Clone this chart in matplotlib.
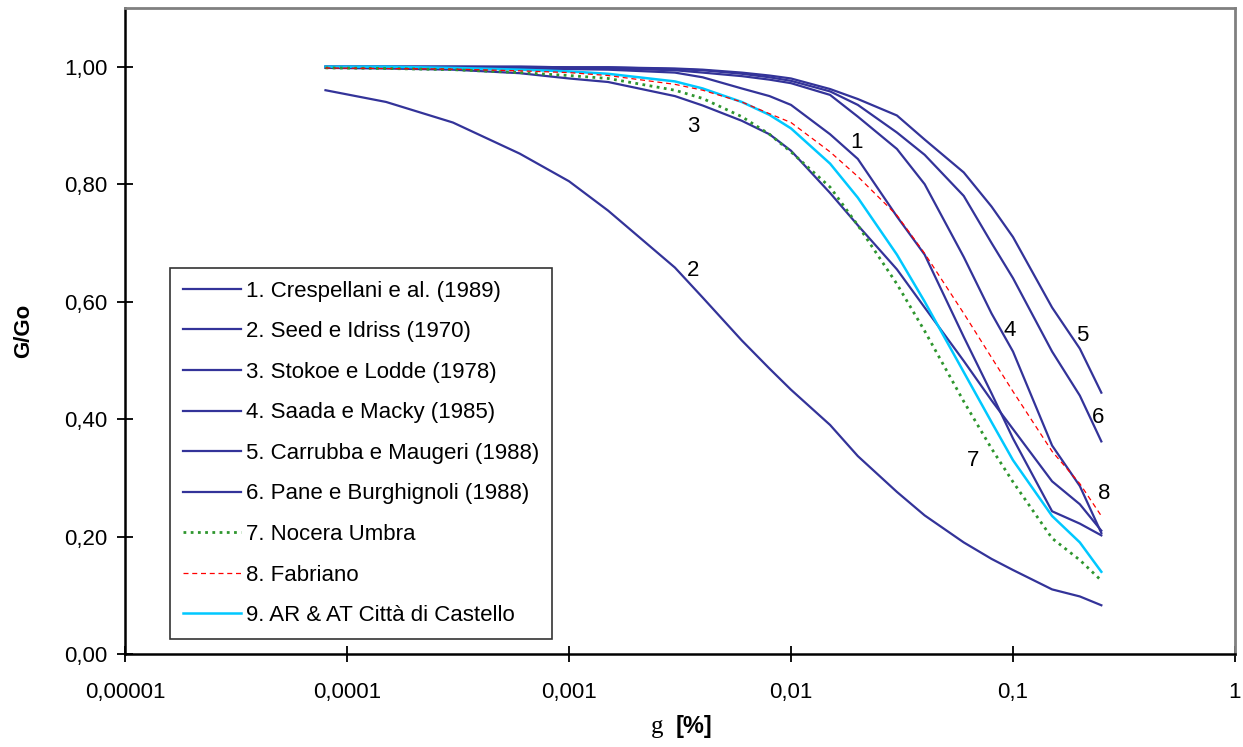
import matplotlib
matplotlib.use('Agg')
import matplotlib.pyplot as plt
from matplotlib.ticker import FixedLocator, FixedFormatter, NullLocator

plt.rcParams['font.family'] = ['Liberation Sans', 'DejaVu Sans']

# shear strain [%] at which every curve is tabulated
strain = [8e-5, 1.5e-4, 3e-4, 6e-4, 1e-3, 1.5e-3, 3e-3, 4e-3, 6e-3, 8e-3, 1e-2,
          1.5e-2, 2e-2, 3e-2, 4e-2, 6e-2, 8e-2, 0.1, 0.15, 0.2, 0.25]

# G/Go decay curves
crespellani = [0.999, 0.999, 0.998, 0.997, 0.996, 0.995, 0.99, 0.982, 0.963, 0.95, 0.935,
               0.885, 0.843, 0.745, 0.68, 0.54, 0.444, 0.367, 0.243, 0.222, 0.202]
seed_idriss = [0.96, 0.94, 0.905, 0.852, 0.805, 0.755, 0.658, 0.607, 0.534, 0.486, 0.45,
               0.39, 0.337, 0.276, 0.236, 0.19, 0.162, 0.143, 0.11, 0.098, 0.083]
stokoe_lodde = [0.998, 0.997, 0.995, 0.989, 0.98, 0.974, 0.95, 0.934, 0.908, 0.885, 0.857,
                0.785, 0.73, 0.655, 0.59, 0.499, 0.432, 0.383, 0.294, 0.255, 0.21]
saada_macky = [1.0, 1.0, 1.0, 0.999, 0.998, 0.997, 0.994, 0.99, 0.984, 0.978, 0.972,
               0.952, 0.915, 0.86, 0.80, 0.676, 0.58, 0.515, 0.355, 0.286, 0.206]
carrubba_maugeri = [1.0, 1.0, 1.0, 1.0, 0.999, 0.999, 0.997, 0.995, 0.99, 0.985, 0.98,
                    0.962, 0.945, 0.917, 0.876, 0.82, 0.762, 0.71, 0.59, 0.52, 0.445]
pane_burghignoli = [1.0, 1.0, 1.0, 1.0, 0.999, 0.999, 0.996, 0.994, 0.988, 0.982, 0.976,
                    0.958, 0.935, 0.888, 0.85, 0.78, 0.70, 0.64, 0.515, 0.44, 0.362]
nocera_umbra = [0.998, 0.997, 0.995, 0.99, 0.985, 0.98, 0.96, 0.946, 0.915, 0.885, 0.855,
                0.795, 0.73, 0.63, 0.55, 0.43, 0.35, 0.293, 0.197, 0.16, 0.125]
fabriano = [0.998, 0.997, 0.996, 0.993, 0.99, 0.985, 0.97, 0.96, 0.94, 0.92, 0.905,
            0.855, 0.813, 0.747, 0.682, 0.58, 0.505, 0.447, 0.345, 0.29, 0.235]
citta_castello = [1.0, 1.0, 0.998, 0.995, 0.992, 0.988, 0.975, 0.963, 0.94, 0.918, 0.895,
                  0.835, 0.777, 0.68, 0.60, 0.48, 0.395, 0.33, 0.235, 0.19, 0.14]

legend_names = ['1. Crespellani e al. (1989)', '2. Seed e Idriss (1970)',
                '3. Stokoe e Lodde (1978)', '4. Saada e Macky (1985)',
                '5. Carrubba e Maugeri (1988)', '6. Pane e Burghignoli (1988)',
                '7. Nocera Umbra', '8. Fabriano', '9. AR & AT Città di Castello']

# curve number labels written next to the lines
label_text = ['1', '2', '3', '4', '5', '6', '7', '8']
label_x = [0.0198, 0.00362, 0.00362, 0.0969, 0.205, 0.2415, 0.066, 0.257]
label_y = [0.871, 0.653, 0.898, 0.551, 0.5425, 0.403, 0.33, 0.274]

xtick_vals = [1e-5, 1e-4, 1e-3, 1e-2, 1e-1, 1]
xtick_labels = ['0,00001', '0,0001', '0,001', '0,01', '0,1', '1']
ytick_vals = [0.0, 0.2, 0.4, 0.6, 0.8, 1.0]
ytick_labels = ['0,00', '0,20', '0,40', '0,60', '0,80', '1,00']

navy = '#333399'

fig = plt.figure(figsize=(12.43, 7.47), dpi=100)
ax = fig.add_axes([125 / 1243, 1 - 654 / 747, 1110 / 1243, 646 / 747])

curves = [crespellani, seed_idriss, stokoe_lodde, saada_macky,
          carrubba_maugeri, pane_burghignoli]
for vals, name in zip(curves, legend_names[:6]):
    ax.plot(strain, vals, color=navy, lw=1.6, label=name, zorder=2)
ax.plot(strain, nocera_umbra, color='#2E962E', lw=2.0, ls=(0, (1, 1.6)),
        label=legend_names[6], zorder=4)
ax.plot(strain, fabriano, color='#FF0000', lw=0.9, ls=(0, (4, 3)),
        label=legend_names[7], zorder=4)
ax.plot(strain, citta_castello, color='#00C8FF', lw=1.8,
        label=legend_names[8], zorder=3)

for t, x, y in zip(label_text, label_x, label_y):
    ax.text(x, y, t, fontsize=16, ha='center', va='center')

ax.set_xscale('log')
ax.set_xlim(1e-5, 1)
ax.set_ylim(0, 1.1)
ax.xaxis.set_major_locator(FixedLocator(xtick_vals))
ax.xaxis.set_major_formatter(FixedFormatter(xtick_labels))
ax.xaxis.set_minor_locator(NullLocator())
ax.yaxis.set_major_locator(FixedLocator(ytick_vals))
ax.yaxis.set_major_formatter(FixedFormatter(ytick_labels))
ax.tick_params(axis='both', direction='inout', length=11, width=1.3,
               labelsize=16, color='black')
ax.tick_params(axis='x', pad=15)
ax.tick_params(axis='y', pad=7)

for side in ['left', 'bottom']:
    ax.spines[side].set_color('black')
    ax.spines[side].set_linewidth(1.8)
for side in ['top', 'right']:
    ax.spines[side].set_color('#808080')
    ax.spines[side].set_linewidth(2)

ax.set_ylabel('G/Go', fontsize=16, fontweight='bold', labelpad=22)
fig.text(657 / 1243, 1 - 727 / 747, 'g', fontsize=18, family='Liberation Serif',
         ha='center', va='center')
fig.text(694 / 1243, 1 - 726 / 747, '[%]', fontsize=17, fontweight='bold',
         ha='center', va='center')

leg = ax.legend(loc='lower left', bbox_to_anchor=(0.0405, 0.0232), borderaxespad=0,
                fontsize=16, frameon=True, fancybox=False, handlelength=2.6,
                handletextpad=0.25, labelspacing=0.88, borderpad=0.58)
leg.get_frame().set_edgecolor('black')
leg.get_frame().set_linewidth(1.2)

fig.savefig('out.png', dpi=100)
